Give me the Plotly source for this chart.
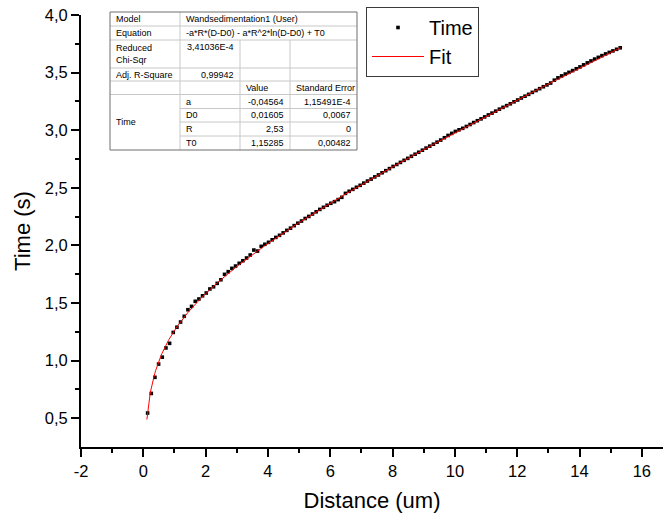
import numpy as np
import plotly.graph_objects as go

# ---------------- data ----------------
distance = [
    0.138, 0.256, 0.373, 0.491, 0.608, 0.726, 0.844, 0.961, 1.079, 1.196,
    1.314, 1.432, 1.549, 1.667, 1.784, 1.902, 2.020, 2.137, 2.255, 2.372,
    2.490, 2.608, 2.725, 2.843, 2.960, 3.078, 3.196, 3.313, 3.431, 3.548,
    3.666, 3.784, 3.901, 4.019, 4.136, 4.254,
    4.372, 4.489, 4.607, 4.724, 4.842, 4.960, 5.077, 5.195, 5.312, 5.430,
    5.548, 5.665, 5.783, 5.900, 6.018, 6.136, 6.253, 6.371, 6.488, 6.606,
    6.724, 6.841, 6.959, 7.076, 7.194, 7.312, 7.429, 7.547, 7.664, 7.782,
    7.900, 8.017, 8.135, 8.252, 8.370, 8.488, 8.605, 8.723, 8.840, 8.958,
    9.076, 9.193, 9.311, 9.428, 9.546, 9.664, 9.781, 9.899, 10.016, 10.134,
    10.252, 10.369, 10.487, 10.604, 10.722, 10.840, 10.957, 11.075, 11.192, 11.310,
    11.428, 11.545, 11.663, 11.780, 11.898, 12.016, 12.133, 12.251, 12.368, 12.486,
    12.604, 12.721, 12.839, 12.956, 13.074, 13.192, 13.309, 13.427, 13.544, 13.662,
    13.780, 13.897, 14.015, 14.132, 14.250, 14.368, 14.485, 14.603, 14.720, 14.838,
    14.956, 15.073, 15.191, 15.308,
]
time_s = [
    0.545, 0.715, 0.855, 0.970, 1.030, 1.110, 1.150, 1.245, 1.290, 1.335,
    1.385, 1.442, 1.471, 1.515, 1.535, 1.563, 1.587, 1.622, 1.641, 1.671,
    1.702, 1.749, 1.772, 1.801, 1.821, 1.845, 1.867, 1.891, 1.917, 1.960,
    1.951, 1.992, 2.010, 2.027, 2.049, 2.070,
    2.088, 2.109, 2.131, 2.150, 2.172, 2.193, 2.212, 2.234, 2.252, 2.273,
    2.292, 2.313, 2.331, 2.349, 2.366, 2.380, 2.398, 2.418, 2.452, 2.470,
    2.487, 2.505, 2.522, 2.541, 2.559, 2.576, 2.595, 2.612, 2.631, 2.649,
    2.667, 2.686, 2.703, 2.721, 2.739, 2.756, 2.774, 2.792, 2.809, 2.827,
    2.845, 2.862, 2.879, 2.897, 2.915, 2.935, 2.955, 2.973, 2.990, 3.004,
    3.017, 3.033, 3.050, 3.067, 3.083, 3.099, 3.116, 3.133, 3.149, 3.166,
    3.183, 3.199, 3.214, 3.230, 3.247, 3.263, 3.280, 3.296, 3.312, 3.329,
    3.345, 3.361, 3.378, 3.394, 3.410, 3.435, 3.455, 3.472, 3.488, 3.503,
    3.518, 3.534, 3.550, 3.568, 3.585, 3.602, 3.618, 3.633, 3.648, 3.663,
    3.676, 3.689, 3.703, 3.716,
]

# fit parameters as shown in the table
fit_a = -0.04564
fit_D0 = 0.01605
fit_R = 2.53
fit_T0 = 1.15285
fit_range = [0.115, 15.32]

x_tickvals = [-2, 0, 2, 4, 6, 8, 10, 12, 14, 16]
x_ticktext = ["-2", "0", "2", "4", "6", "8", "10", "12", "14", "16"]
x_minor = [-1, 1, 3, 5, 7, 9, 11, 13, 15]
y_tickvals = [0.5, 1.0, 1.5, 2.0, 2.5, 3.0, 3.5, 4.0]
y_ticktext = ["0,5", "1,0", "1,5", "2,0", "2,5", "3,0", "3,5", "4,0"]
y_minor = [0.75, 1.25, 1.75, 2.25, 2.75, 3.25, 3.75]

table_rows = [
    ["Model", "Wandsedimentation1 (User)", "", ""],
    ["Equation", "-a*R*(D-D0) - a*R^2*ln(D-D0) + T0", "", ""],
    ["Reduced<br>Chi-Sqr", "3,41036E-4", "", ""],
    ["Adj. R-Square", "0,99942", "", ""],
    ["", "", "Value", "Standard Error"],
]
param_names = ["a", "D0", "R", "T0"]
param_values = ["-0,04564", "0,01605", "2,53", "1,15285"]
param_errors = ["1,15491E-4", "0,0067", "0", "0,00482"]
group_label = "Time"

# ---------------- figure ----------------
W, H = 665, 521
PL, PR, PT, PB = 81, 663, 15, 447          # plot area in window pixels
L, T = PL, PT
R_ = W - PR
B = H - PB
PW, PH = PR - PL, PB - PT

def px(x):
    return (x - PL) / PW

def py(y):
    return (PB - y) / PH

fit_x = np.linspace(fit_range[0], fit_range[1], 600)
fit_y = -fit_a * fit_R * (fit_x - fit_D0) - fit_a * fit_R ** 2 * np.log(fit_x - fit_D0) + fit_T0

fig = go.Figure()
fig.add_trace(go.Scatter(
    x=distance, y=time_s, mode="markers", name="Time",
    marker=dict(symbol="square", size=3.6, color="black", line=dict(width=0)),
))
fig.add_trace(go.Scatter(
    x=fit_x, y=fit_y, mode="lines", name="Fit",
    line=dict(color="#ff0000", width=1),
))

axis_common = dict(
    showgrid=False, zeroline=False, showline=True, linecolor="black", linewidth=2,
    ticks="outside", ticklen=8, tickwidth=2, tickcolor="black",
    tickfont=dict(size=16.5, color="black"), mirror=False,
    ticklabeloverflow="allow",
)
fig.update_xaxes(
    range=[-2, 16.68], tickmode="array", tickvals=x_tickvals, ticktext=x_ticktext,
    minor=dict(tickmode="array", tickvals=x_minor, ticks="outside", ticklen=4,
               tickwidth=2, tickcolor="black"),
    title=dict(text="Distance (um)", font=dict(size=22, color="black"), standoff=14),
    **axis_common,
)
fig.update_yaxes(
    range=[0.25, 4.0008], tickmode="array", tickvals=y_tickvals, ticktext=y_ticktext,
    minor=dict(tickmode="array", tickvals=y_minor, ticks="outside", ticklen=4,
               tickwidth=2, tickcolor="black"),
    title=dict(text="Time (s)", font=dict(size=22, color="black"), standoff=8),
    **axis_common,
)

# ---------------- parameter table ----------------
col_edges = [110, 180, 240, 290, 357]
row_edges = [12, 26, 40, 68, 81, 94.5, 108.5, 122, 136, 150]
inner = "#c8c8c8"
shapes = []

def hline(x0, x1, y, color=inner):
    shapes.append(dict(type="line", xref="paper", yref="paper", x0=px(x0), x1=px(x1),
                       y0=py(y), y1=py(y), line=dict(color=color, width=1)))

def vline(x, y0, y1, color=inner):
    shapes.append(dict(type="line", xref="paper", yref="paper", x0=px(x), x1=px(x),
                       y0=py(y0), y1=py(y1), line=dict(color=color, width=1)))

shapes.append(dict(type="rect", xref="paper", yref="paper",
                   x0=px(col_edges[0]), x1=px(col_edges[-1]),
                   y0=py(row_edges[-1]), y1=py(row_edges[0]),
                   fillcolor="white", line=dict(width=0), layer="above"))
for i in range(1, 6):
    hline(col_edges[0], col_edges[-1], row_edges[i])
for i in range(6, 9):
    hline(col_edges[1], col_edges[-1], row_edges[i])
vline(col_edges[1], row_edges[0], row_edges[-1])
vline(col_edges[2], row_edges[2], row_edges[-1])
vline(col_edges[3], row_edges[2], row_edges[-1])
shapes.append(dict(type="rect", xref="paper", yref="paper",
                   x0=px(col_edges[0]), x1=px(col_edges[-1]),
                   y0=py(row_edges[-1]), y1=py(row_edges[0]),
                   line=dict(color="#6e6e6e", width=1)))

annotations = []
FS = 9

def cell_text(text, col, row0, row1, align):
    if not text:
        return
    yc = (row_edges[row0] + row_edges[row1]) / 2
    if align == "left":
        x, xa = col_edges[col] + 4, "left"
    else:
        x, xa = col_edges[col + 1] - 4, "right"
    annotations.append(dict(text=text, xref="paper", yref="paper", x=px(x), y=py(yc),
                            xanchor=xa, yanchor="middle", showarrow=False, align="left",
                            font=dict(size=FS, color="black")))

for r, row in enumerate(table_rows):
    cell_text(row[0], 0, r, r + 1, "left")
    if r in (0, 1):
        cell_text(row[1], 1, r, r + 1, "left")
    elif r == 2:
        annotations.append(dict(text=row[1], xref="paper", yref="paper",
                                x=px(col_edges[2] - 4), y=py(row_edges[2] + 7),
                                xanchor="right", yanchor="middle", showarrow=False,
                                font=dict(size=FS, color="black")))
    elif r == 3:
        cell_text(row[1], 1, r, r + 1, "right")
    else:
        cell_text(row[2], 2, r, r + 1, "left")
        cell_text(row[3], 3, r, r + 1, "left")
for k in range(4):
    r = 5 + k
    cell_text(param_names[k], 1, r, r + 1, "left")
    cell_text(param_values[k], 2, r, r + 1, "right")
    cell_text(param_errors[k], 3, r, r + 1, "right")
cell_text(group_label, 0, 5, 9, "left")

fig.update_layout(
    width=W, height=H,
    margin=dict(l=L, r=R_, t=T, b=B, autoexpand=False),
    paper_bgcolor="white", plot_bgcolor="white",
    font=dict(family="Arial, Liberation Sans, sans-serif", color="black"),
    showlegend=True,
    legend=dict(x=px(366), y=py(7), xanchor="left", yanchor="top",
                bordercolor="#3a3a3a", borderwidth=1, bgcolor="white",
                font=dict(size=20, color="black"), itemwidth=52,
                tracegroupgap=0),
    shapes=shapes, annotations=annotations,
)

# remove the browser's default 8 px page margin so the figure sits at the window corner
fig.write_html("out.html", config={"displayModeBar": False},
               post_script="document.body.style.margin='0px';")
